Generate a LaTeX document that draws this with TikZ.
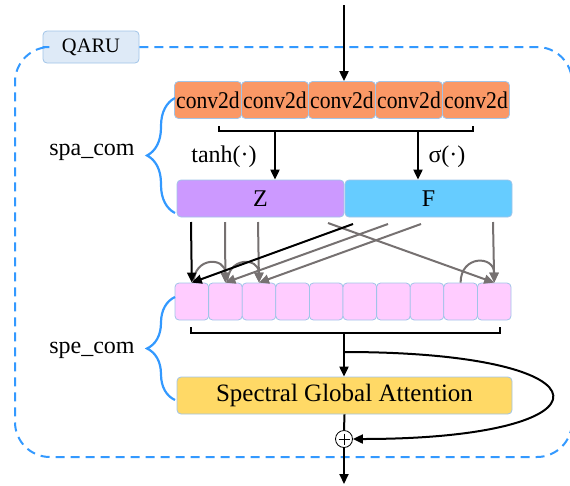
\documentclass[tikz,border=0pt]{standalone}
\usepackage{fontspec}
\setmainfont{Liberation Serif}
\newfontfamily\narrowfont{Liberation Serif}[FakeStretch=0.9]
\usetikzlibrary{arrows.meta,decorations.pathreplacing}
\definecolor{convorange}{RGB}{250,152,102}
\definecolor{edgeblue}{RGB}{160,196,232}
\definecolor{zpurple}{RGB}{204,153,255}
\definecolor{fblue}{RGB}{102,204,255}
\definecolor{cellpink}{RGB}{255,204,255}
\definecolor{sgagold}{RGB}{255,217,102}
\definecolor{qarufill}{RGB}{222,234,247}
\definecolor{frameblue}{RGB}{51,153,255}
\definecolor{arrowgray}{RGB}{118,113,113}
\begin{document}
\begin{tikzpicture}[x=1pt,y=-1pt,
    box/.style={draw=edgeblue, line width=0.8pt, rounded corners=4pt, inner sep=0pt, minimum height=37pt},
    arr/.style={-{Triangle[length=10pt,width=9pt]}, line width=2pt},
    garr/.style={arr, draw=arrowgray},
    bline/.style={line width=2pt},
    lbl/.style={font=\fontsize{24}{24}\selectfont},
    bracebl/.style={draw=frameblue, line width=2.2pt, decorate, decoration={brace, amplitude=28pt}}]
    \useasboundingbox (0,0) rectangle (570,485);
    % Frame and title
    \node[box, fill=qarufill, minimum width=96pt, minimum height=32pt, font=\fontsize{20.5}{20.5}\selectfont] (qaru) at (91,47) {QARU};
    \draw[frameblue, line width=2pt, dash pattern=on 9pt off 6pt, rounded corners=35pt]
        (qaru.east) -- (572,47) -- (572,457) -- (15,457) -- (15,47) -- (qaru.west);
    % Spatial part
    \foreach \i in {0,...,4}
        \node[box, fill=convorange, minimum width=67pt, font=\narrowfont\fontsize{24}{24}\selectfont] (c\i) at (208+67*\i,100) {conv2d};
    \coordinate (in) at (344,5);
    \draw[arr] (in) -- (in |- c2.north);
    \draw[bline] (219,126) -- (219,131) -- (473,131) -- (473,126);
    \node[box, fill=zpurple, minimum width=167pt, lbl] (Z) at (260.5,198.5) {Z};
    \node[box, fill=fblue, minimum width=167pt, lbl] (F) at (428.5,198.5) {F};
    \coordinate (tz) at (275,131);
    \coordinate (tf) at (418,131);
    \draw[arr] (tz) -- (tz |- Z.north);
    \draw[arr] (tf) -- (tf |- F.north);
    \node[lbl] (tanh) at (224,157) {tanh(·)};
    \node[lbl] (sig) at (447,157) {σ(·)};
    % Spectral part
    \foreach \i in {0,...,9}
        \node[box, fill=cellpink, minimum width=33.6pt] (p\i) at (191.8+33.6*\i,301.5) {};
    \coordinate (z1) at (191,222);
    \coordinate (z2) at (225,222);
    \coordinate (z3) at (258,222);
    \coordinate (z4) at (328,223);
    \coordinate (f1) at (353,224);
    \coordinate (f2) at (388,224);
    \coordinate (f3) at (421,224);
    \coordinate (f4) at (493,222);
    \draw[garr] (z2) -- (p1.north);
    \draw[garr] (z3) -- (p2.north);
    \draw[garr] (f2) -- (p1.north);
    \draw[garr] (f3) -- (p2.north);
    \draw[garr] (z4) -- (p9.north);
    \draw[garr] (f4) -- (p9.north);
    \draw[garr] ([xshift=2pt]p0.north) to[out=90,in=90,looseness=2.1] (p1.north);
    \draw[garr] ([xshift=2pt]p1.north) to[out=90,in=90,looseness=2.1] (p2.north);
    \draw[garr] (p8.north) to[out=90,in=90,looseness=2.1] (p9.north);
    \draw[arr] (z1) -- (p0.north);
    \draw[arr] (f1) -- (p0.north);
    \draw[bline] (191,327) -- (191,333) -- (500,333) -- (500,327);
    \node[box, fill=sgagold, minimum width=335pt, font=\fontsize{25}{25}\selectfont] (sga) at (344.5,395.5) {Spectral Global Attention};
    \node[circle, draw, line width=0.8pt, minimum size=17pt, inner sep=0pt, fill=white,
        path picture={\draw[line width=0.8pt, shorten >=3pt, shorten <=3pt] (path picture bounding box.north) -- (path picture bounding box.south);
                      \draw[line width=0.8pt, shorten >=3pt, shorten <=3pt] (path picture bounding box.west) -- (path picture bounding box.east);}] (plus) at (344,439) {};
    \coordinate (bs) at (344,333);
    \coordinate (br) at (344,352);
    \coordinate (out) at (344,484);
    \draw[arr] (bs) -- (bs |- sga.north);
    \draw[bline] (sga.south) -- (plus.north);
    \draw[arr] (plus.south) -- (out);
    \draw[arr] (br) .. controls (620,352) and (620,439) .. (plus.east);
    % Braces and labels
    \draw[bracebl] (175,213) -- (175,98);
    \node[lbl] (spa) at (92,152) {spa\_com};
    \draw[bracebl] (175,400) -- (175,297);
    \node[lbl] (spe) at (92,350) {spe\_com};
\end{tikzpicture}
\end{document}
